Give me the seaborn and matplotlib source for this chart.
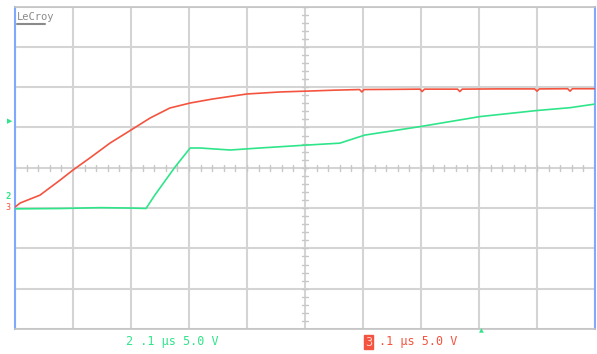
import matplotlib
matplotlib.use("Agg")
import matplotlib.pyplot as plt
import seaborn as sns
import pandas as pd
import numpy as np

# ---- data (time in µs relative to screen centre, level in V at 5 V/div) ----
red_t = [-0.5, -0.491, -0.457, -0.422, -0.4, -0.371, -0.336, -0.3, -0.267, -0.233,
         -0.198, -0.159, -0.124, -0.1, -0.043, 0.009, 0.05, 0.094, 0.098, 0.102,
         0.15, 0.198, 0.202, 0.206, 0.263, 0.267, 0.271, 0.33, 0.396, 0.4, 0.404,
         0.453, 0.457, 0.461, 0.5]
red_v = [-4.87, -4.37, -3.4, -1.52, -0.28, 1.21, 3.07, 4.68, 6.17, 7.41,
         8.03, 8.53, 8.9, 9.15, 9.4, 9.52, 9.62, 9.7, 9.4, 9.7,
         9.72, 9.75, 9.45, 9.75, 9.75, 9.45, 9.75, 9.78, 9.78, 9.5, 9.78,
         9.8, 9.5, 9.8, 9.8]
green_t = [-0.5, -0.42, -0.353, -0.3, -0.274, -0.259, -0.224, -0.198, -0.181,
           -0.129, -0.078, 0.0, 0.06, 0.103, 0.198, 0.302, 0.4, 0.457, 0.5]
green_v = [-5.1, -5.05, -4.95, -5.0, -5.05, -3.4, 0.1, 2.45, 2.45,
           2.2, 2.45, 2.8, 3.05, 4.05, 5.1, 6.35, 7.1, 7.45, 7.9]

ch2_label = "2 .1 µs 5.0 V"
ch3_label = ".1 µs 5.0 V"

RED = "#f4543f"
GREEN = "#2fe58a"
GRID = "#d4d4d4"
BLUE = "#7fa9ff"

sns.set_style("white")
W, H = 597, 354
fig = plt.figure(figsize=(W / 100, H / 100), dpi=100, facecolor="white")
ax = fig.add_axes([15 / W, (H - 329) / H, 580 / W, 322.5 / H])

df_r = pd.DataFrame({"t": red_t, "v": red_v})
df_g = pd.DataFrame({"t": green_t, "v": green_v})
sns.lineplot(data=df_r, x="t", y="v", ax=ax, color=RED, lw=1.2, zorder=4)
sns.lineplot(data=df_g, x="t", y="v", ax=ax, color=GREEN, lw=1.2, zorder=5)

ax.set_xlim(-0.5, 0.5)
ax.set_ylim(-20, 20)
ax.set_xticks(np.arange(-0.5, 0.51, 0.1))
ax.set_yticks(np.arange(-20, 21, 5))
ax.grid(True, color=GRID, lw=1.5)
ax.tick_params(length=0, labelbottom=False, labelleft=False)
ax.set_xlabel("")
ax.set_ylabel("")
for s in ["top", "bottom"]:
    ax.spines[s].set_color("#c4c4c4")
    ax.spines[s].set_linewidth(1.2)
for s in ["left", "right"]:
    ax.spines[s].set_color(BLUE)
    ax.spines[s].set_linewidth(1.5)

# centre cross ticks
for xv in np.arange(-0.5, 0.501, 0.02):
    ax.plot([xv, xv], [-0.35, 0.35], color="#c8c8c8", lw=1, zorder=2)
for yv in np.arange(-20, 20.01, 1.0):
    ax.plot([-0.006, 0.006], [yv, yv], color="#c8c8c8", lw=1, zorder=2)

# LeCroy logo
fig.text(17 / W, 1 - 17 / H, "LeCroy", fontsize=7.5, color="#8a8a8a",
         family="DejaVu Sans Mono", va="center", ha="left")
fig.add_artist(plt.Line2D([17 / W, 45 / W], [1 - 24 / H, 1 - 24 / H],
                          color="#8a8a8a", lw=1.5))

# left markers
fig.text(12 / W, 1 - 121.5 / H, "▶", fontsize=5, color=GREEN, ha="right", va="center")
fig.text(8 / W, 1 - 196.5 / H, "2", fontsize=6.5, color=GREEN, ha="center", va="center",
         family="DejaVu Sans Mono", weight="bold")
fig.text(8 / W, 1 - 207 / H, "3", fontsize=6, color=RED, ha="center", va="center",
         family="DejaVu Sans Mono")
# bottom trigger marker
fig.text(481 / W, 1 - 331 / H, "▲", fontsize=4.5, color=GREEN, ha="center", va="center")

# channel labels
fig.text(126 / W, 1 - 342 / H, ch2_label, fontsize=8.5, color=GREEN,
         family="DejaVu Sans Mono", ha="left", va="center")
fig.text(368.5 / W, 1 - 342 / H, "3", fontsize=8.5, color="#ffd0c8",
         family="DejaVu Sans Mono", ha="center", va="center",
         bbox=dict(boxstyle="square,pad=0.08", fc=RED, ec=RED))
fig.text(379 / W, 1 - 342 / H, ch3_label, fontsize=8.5, color=RED,
         family="DejaVu Sans Mono", ha="left", va="center")

fig.savefig("out.png", dpi=100, facecolor="white")
